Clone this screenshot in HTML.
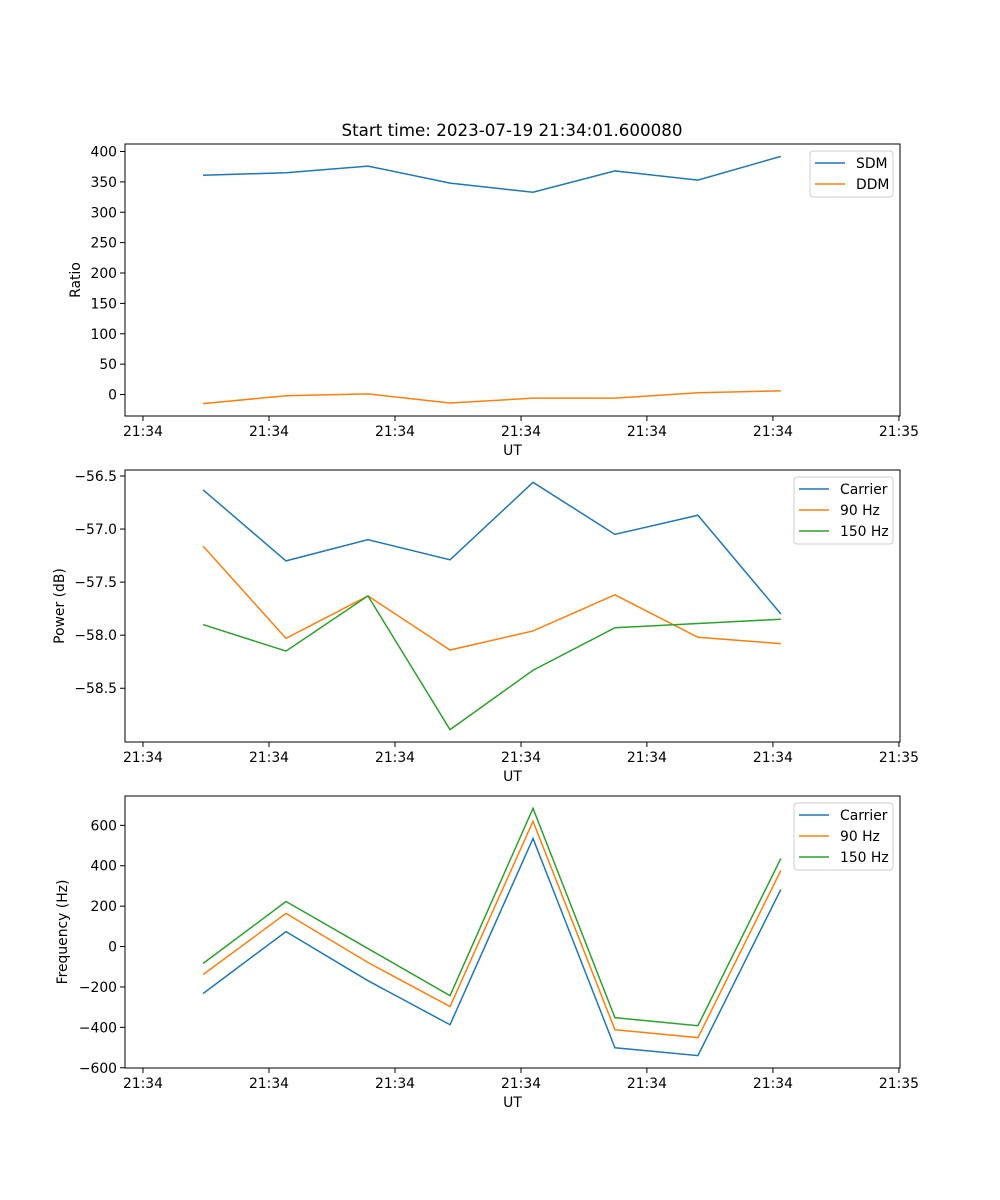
<!DOCTYPE html>
<html><head><meta charset="utf-8"><style>
body{margin:0;background:#fff}
svg{display:block;font-family:"DejaVu Sans","Liberation Sans",sans-serif}
</style></head><body>
<svg id="fig" width="1000" height="1200" xmlns="http://www.w3.org/2000/svg">
<rect width="1000" height="1200" fill="#fff"/>
<text x="512" y="136" font-size="16.7" text-anchor="middle">Start time: 2023-07-19 21:34:01.600080</text>
</svg>
<script>
const times = [7.545, 12.945, 18.28, 23.62, 29.02, 34.35, 39.75, 45.15];
const xDomain = [2.47, 52.9];
const xTicks = [3.64, 11.84, 20.04, 28.24, 36.43, 44.63, 52.83];
const xTickLabels = ["21:34","21:34","21:34","21:34","21:34","21:34","21:35"];
const sdm = [361, 365, 376, 348, 333, 368, 353, 392];
const ddm = [-15, -2, 1, -14, -6, -6, 3, 6];
const powCarrier = [-56.63, -57.30, -57.10, -57.29, -56.56, -57.05, -56.87, -57.80];
const pow90 = [-57.16, -58.03, -57.63, -58.14, -57.96, -57.62, -58.02, -58.08];
const pow150 = [-57.90, -58.15, -57.63, -58.89, -58.33, -57.93, -57.89, -57.85];
const freqCarrier = [-233, 74, -169, -387, 535, -501, -540, 283];
const freq90 = [-139, 164, -79, -297, 620, -412, -451, 377];
const freq150 = [-84, 223, -10, -243, 684, -352, -392, 436];
const ratioTicks = [0,50,100,150,200,250,300,350,400];
const powTicks = [-56.5,-57.0,-57.5,-58.0,-58.5];
const freqTicks = [-600,-400,-200,0,200,400,600];

const NS="http://www.w3.org/2000/svg";
const svg=document.getElementById('fig');
function mk(tag,attrs,parent){const e=document.createElementNS(NS,tag);for(const k in attrs)e.setAttribute(k,attrs[k]);(parent||svg).appendChild(e);return e;}
const L=125,R=900;
function panel(name,top,bottom,series,yTicks,yFmt,ylabel,legend){
  const g=mk('g',{});
  
  
  const all=[].concat(...series.map(s=>s.v));
  const mn=Math.min(...all),mx=Math.max(...all),m=(mx-mn)*0.05;
  const y0=mn-m,y1=mx+m;
  const xs=t=>L+(t-xDomain[0])/(xDomain[1]-xDomain[0])*(R-L);
  const ys=v=>bottom-(v-y0)/(y1-y0)*(bottom-top);
  series.forEach(s=>{
    const p=mk('polyline',{points:s.v.map((v,i)=>xs(times[i])+','+ys(v)).join(' '),fill:'none',stroke:s.c,'stroke-width':1.5},g);
    
    
  });
  mk('rect',{x:L,y:top,width:R-L,height:bottom-top,fill:'none',stroke:'#000','stroke-width':1},g);
  xTicks.forEach((t,i)=>{const x=xs(t);mk('line',{x1:x,x2:x,y1:bottom,y2:bottom+5,stroke:'#000'},g);
    const tx=mk('text',{x:x,y:bottom+20,'font-size':13.9,'text-anchor':'middle'},g);tx.textContent=xTickLabels[i];
    
    });
  yTicks.forEach(v=>{const y=ys(v);mk('line',{x1:L-5,x2:L,y1:y,y2:y,stroke:'#000'},g);
    const tx=mk('text',{x:L-8,y:y+5,'font-size':13.9,'text-anchor':'end'},g);tx.textContent=yFmt(v);
    
    });
  const xl=mk('text',{x:(L+R)/2,y:bottom+39,'font-size':13.9,'text-anchor':'middle'},g);xl.textContent='UT';
  
  
  const yx=ylabel.x;
  const yl=mk('text',{x:yx,y:(top+bottom)/2,'font-size':13.9,'text-anchor':'middle',transform:'rotate(-90 '+yx+' '+(top+bottom)/2+')'},g);yl.textContent=ylabel.t;
  
  
  const lg=mk('g',{},g);
  
  
  mk('rect',{x:legend.x,y:top+7,width:893-legend.x,height:series.length*21+4,rx:3,fill:'#fff',stroke:'#ccc'},lg);
  series.forEach((s,i)=>{const yy=top+19+i*21;
    mk('line',{x1:legend.x+5,x2:legend.x+35,y1:yy,y2:yy,stroke:s.c,'stroke-width':1.5},lg);
    const t=mk('text',{x:legend.x+46,y:yy+5,'font-size':13.9},lg);t.textContent=s.n;
    
    });
}
const B='#1f77b4',O='#ff7f0e',G='#2ca02c';
panel('ratio',144,416,[{n:'SDM',v:sdm,c:B},{n:'DDM',v:ddm,c:O}],ratioTicks,v=>String(v),{t:'Ratio',x:80},{x:810});
panel('power',470,742,[{n:'Carrier',v:powCarrier,c:B},{n:'90 Hz',v:pow90,c:O},{n:'150 Hz',v:pow150,c:G}],powTicks,v=>v.toFixed(1).replace('-','\u2212'),{t:'Power (dB)',x:64},{x:794});
panel('frequency',796,1068,[{n:'Carrier',v:freqCarrier,c:B},{n:'90 Hz',v:freq90,c:O},{n:'150 Hz',v:freq150,c:G}],freqTicks,v=>String(v).replace('-','\u2212'),{t:'Frequency (Hz)',x:67},{x:794});
</script>
</body></html>
